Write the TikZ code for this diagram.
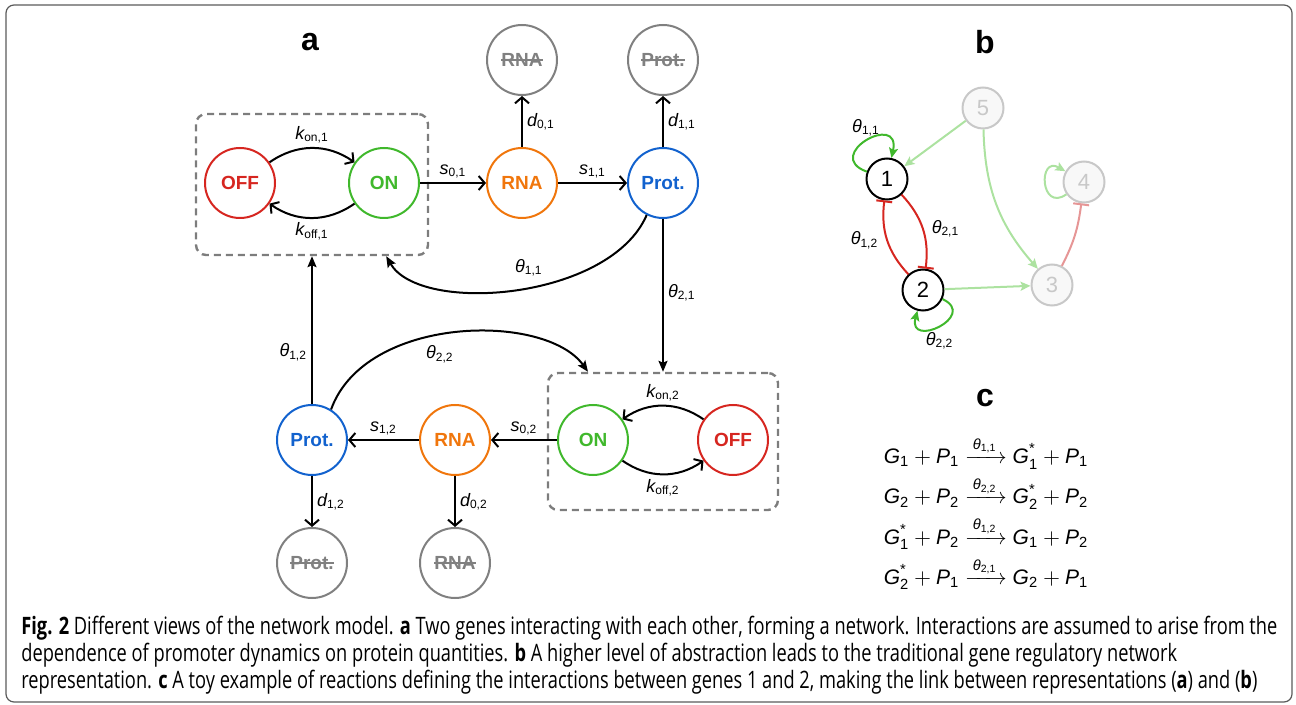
\documentclass[tikz,border=0pt]{standalone}
\usepackage{fontspec}
\usepackage{amsmath}
\setmainfont{Liberation Sans}
\newfontfamily\capfont[FakeStretch=0.76]{Open Sans}
\usetikzlibrary{arrows.meta}

\definecolor{offred}{RGB}{214,38,32}
\definecolor{ongreen}{RGB}{64,184,44}
\definecolor{rnaorange}{RGB}{240,118,12}
\definecolor{protblue}{RGB}{18,98,206}
\definecolor{deggray}{RGB}{128,128,128}
\definecolor{boxgray}{RGB}{125,125,125}
\definecolor{palegreen}{RGB}{172,226,160}
\definecolor{palered}{RGB}{230,150,150}
\definecolor{palegray}{RGB}{200,200,200}
\definecolor{palefill}{RGB}{248,248,248}
\definecolor{framegray}{RGB}{90,90,90}

\newsavebox\strikebox
\newcommand\struck[1]{\sbox\strikebox{#1}\usebox\strikebox\hspace{-\wd\strikebox}\rule[0.3em]{\wd\strikebox}{0.9pt}}
\newcommand\lab[2]{$\textit{#1}_{\text{#2}}$}
\newcommand\gsym[2]{\textit{#1}_{\text{#2}}}
\newcommand\gact[2]{\textit{#1}^{\text{*}}_{\text{#2}}}

\begin{document}
\begin{tikzpicture}[x=0.5pt, y=0.5pt,
  state/.style={circle, draw, line width=1pt, minimum size=35pt, inner sep=0pt,
                font=\fontsize{9.5}{11}\selectfont\bfseries},
  dashbox/.style={draw=boxgray, line width=1.2pt, rounded corners=5pt,
                  dash pattern=on 3.5pt off 2.5pt},
  flow/.style={line width=1pt, -{Straight Barb[length=3pt,width=7pt]}},
  theta/.style={line width=1pt, -{Stealth[length=5.5pt,width=4.5pt,inset=1pt]}},
  gene/.style={circle, draw, line width=1pt, minimum size=20.5pt, inner sep=0pt,
               fill=white, font=\fontsize{11}{13}\selectfont},
  faded/.style={gene, draw=palegray, fill=palefill, text=palegray},
  act/.style={line width=1pt, -{Stealth[length=5pt,width=4.5pt,inset=1pt]}},
  inhib/.style={line width=1pt, -{Bar[width=8pt]}},
  lbl/.style={font=\fontsize{9}{11}\selectfont, inner sep=2pt, text=black},
  panel/.style={font=\fontsize{16}{18}\selectfont\bfseries}]

\useasboundingbox (0,0) rectangle (1296,-705);
\draw[framegray, line width=0.6pt, rounded corners=4pt] (6,-5) rectangle (1292,-702);

% panel labels
\node[panel] (pa) at (310,-42) {a};
\node[panel] (pb) at (985,-42) {b};
\node[panel] (pc) at (985,-398) {c};

% draw the promoter boxes
\node[dashbox, minimum width=116pt, minimum height=70.5pt] (box1) at (312,-184.5) {};
\node[dashbox, minimum width=115pt, minimum height=68.5pt] (box2) at (663,-441.5) {};

% draw gene 1
\node[state, offred] (off1) at (240,-183) {OFF};
\node[state, ongreen] (on1) at (384,-183) {ON};
\node[state, rnaorange] (rna1) at (522,-183) {RNA};
\node[state, protblue] (prot1) at (663,-183) {Prot.};
\node[state, deggray] (rnad1) at (522,-60) {\struck{RNA}};
\node[state, deggray] (protd1) at (663,-60) {\struck{Prot.}};

% draw gene 2
\node[state, ongreen] (on2) at (593,-440) {ON};
\node[state, offred] (off2) at (733,-440) {OFF};
\node[state, rnaorange] (rna2) at (455,-440) {RNA};
\node[state, protblue] (prot2) at (312,-440) {Prot.};
\node[state, deggray] (rnad2) at (455,-563) {\struck{RNA}};
\node[state, deggray] (protd2) at (312,-563) {\struck{Prot.}};

% switching, production and decay
\draw[flow] (off1) to[bend left=35] node[lbl, above=0pt] {\lab{k}{on,1}} (on1);
\draw[flow] (on1) to[bend left=35] node[lbl, below] {\lab{k}{off,1}} (off1);
\draw[flow] (on1) -- node[lbl, above] {\lab{s}{0,1}} (rna1);
\draw[flow] (rna1) -- node[lbl, above] {\lab{s}{1,1}} (prot1);
\draw[flow] (rna1) -- node[lbl, right] {\lab{d}{0,1}} (rnad1);
\draw[flow] (prot1) -- node[lbl, right] {\lab{d}{1,1}} (protd1);

\draw[flow] (off2) to[bend right=35] node[lbl, above=0pt] {\lab{k}{on,2}} (on2);
\draw[flow] (on2) to[bend right=35] node[lbl, below] {\lab{k}{off,2}} (off2);
\draw[flow] (on2) -- node[lbl, above] {\lab{s}{0,2}} (rna2);
\draw[flow] (rna2) -- node[lbl, above] {\lab{s}{1,2}} (prot2);
\draw[flow] (rna2) -- node[lbl, right] {\lab{d}{0,2}} (rnad2);
\draw[flow] (prot2) -- node[lbl, right] {\lab{d}{1,2}} (protd2);

% interactions between the genes
\draw[theta] (prot1.-117) .. controls (610,-300) and (420,-315) ..
             node[lbl, pos=0.46, above=3pt] {\lab{θ}{1,1}} ([xshift=-21.5pt]box1.south east);
\draw[theta] (prot1) -- node[lbl, right, pos=0.48] {\lab{θ}{2,1}} (box2.north);
\draw[theta] (prot2) -- node[lbl, left, pos=0.35] {\lab{θ}{1,2}} (box1.south);
\draw[theta] (prot2.58) .. controls (365,-315) and (545,-312) ..
             node[lbl, pos=0.45, below=3pt] {\lab{θ}{2,2}} ([xshift=-37.5pt]box2.north);

% draw the network of panel b
\node[faded] (n5) at (983,-108) {5};
\node[faded] (n4) at (1084,-182) {4};
\node[faded] (n3) at (1052,-285) {3};
\node[gene] (n1) at (887,-179) {1};
\node[gene] (n2) at (923,-290) {2};

\draw[act, palegreen] (n5) -- (n1);
\draw[act, palegreen] (n5) to[bend right=20] (n3);
\draw[act, palegreen] (n2) -- (n3);
\draw[inhib, palered] (n3) to[bend right=10] (n4);
\draw[act, palegreen] (n4) to[out=215, in=150, distance=16pt] (n4);

\draw[act, ongreen] (n1) to[out=160, in=78, distance=24pt] node[lbl, above] {\lab{θ}{1,1}} (n1);
\draw[act, ongreen] (n2) to[out=-25, in=-105, distance=20pt] node[lbl, below=1pt] {\lab{θ}{2,2}} (n2);
\draw[inhib, offred] (n2) to[bend left=25] node[lbl, left=2pt] {\lab{θ}{1,2}} (n1);
\draw[inhib, offred] (n1) to[bend left=25] node[lbl, right=2pt] {\lab{θ}{2,1}} (n2);

% reactions of panel c
\node[font=\fontsize{10.5}{13}\selectfont] (reac) at (986,-516) {%
  \renewcommand\arraystretch{1.55}%
  \begin{tabular}{@{}l@{\;}c@{\;}l@{}}
  $\gsym{G}{1} + \gsym{P}{1}$ & $\xrightarrow{\,\textit{θ}_{\text{1,1}}\,}$ & $\gact{G}{1} + \gsym{P}{1}$\\
  $\gsym{G}{2} + \gsym{P}{2}$ & $\xrightarrow{\,\textit{θ}_{\text{2,2}}\,}$ & $\gact{G}{2} + \gsym{P}{2}$\\
  $\gact{G}{1} + \gsym{P}{2}$ & $\xrightarrow{\,\textit{θ}_{\text{1,2}}\,}$ & $\gsym{G}{1} + \gsym{P}{2}$\\
  $\gact{G}{2} + \gsym{P}{1}$ & $\xrightarrow{\,\textit{θ}_{\text{2,1}}\,}$ & $\gsym{G}{2} + \gsym{P}{1}$
  \end{tabular}};

% caption
\node[anchor=north west, align=left, inner sep=0pt,
      font=\capfont\fontsize{12}{13.5}\selectfont] (caption) at (21,-616) {%
  \textbf{Fig. 2} Different views of the network model. \textbf{a} Two genes interacting with each other, forming a network. Interactions are assumed to arise from the\\
  dependence of promoter dynamics on protein quantities. \textbf{b} A higher level of abstraction leads to the traditional gene regulatory network\\
  representation. \textbf{c} A toy example of reactions defining the interactions between genes 1 and 2, making the link between representations (\textbf{a}) and (\textbf{b})};

\end{tikzpicture}
\end{document}
